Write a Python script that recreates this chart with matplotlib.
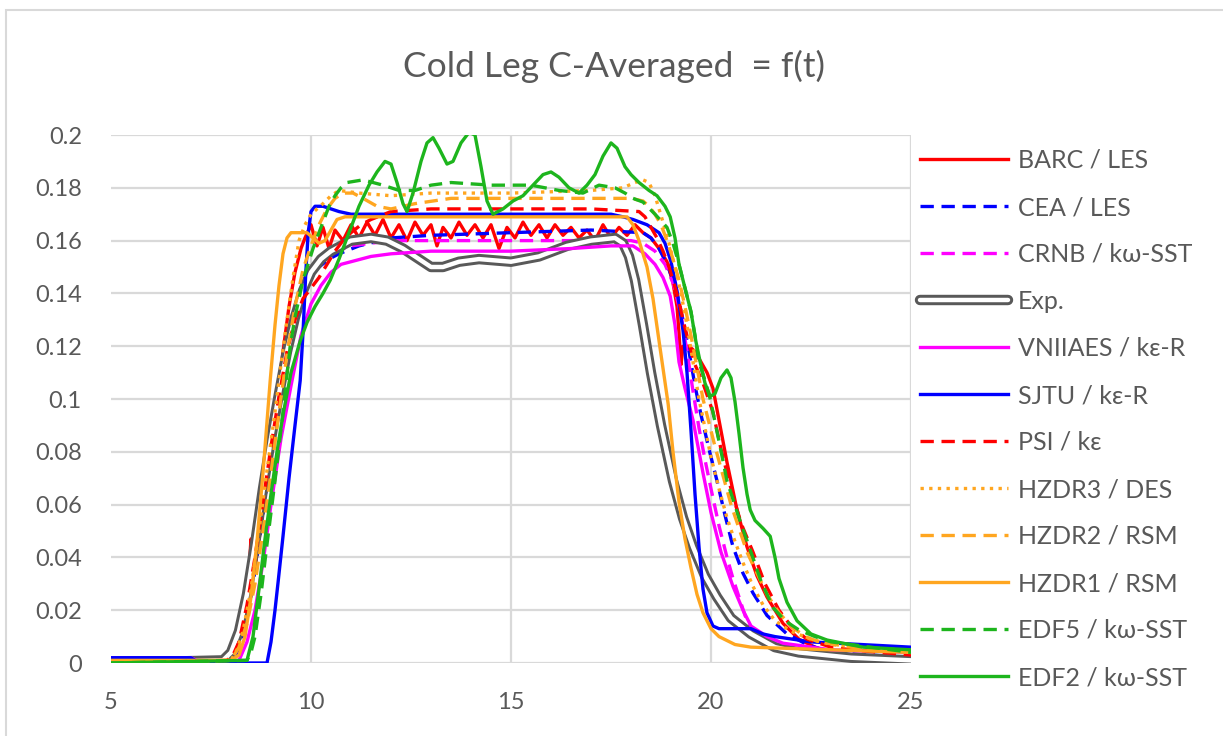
import numpy as np
import matplotlib.pyplot as plt
from matplotlib.legend_handler import HandlerTuple
from matplotlib.patches import Rectangle

# time [s] and cross-section averaged concentration for each contribution
t_barc = [5.0, 7.0, 7.3, 7.9, 8.05, 8.2, 8.35, 8.45, 8.5, 8.55, 8.6, 8.75, 9.0, 9.15, 9.3, 9.45, 9.6,
          9.75, 9.85, 10.0, 10.15, 10.3, 10.45, 10.6, 10.8, 11.0, 11.2, 11.4, 11.6, 11.8, 12.0, 12.2,
          12.4, 12.6, 12.8, 13.0, 13.15, 13.3, 13.5, 13.7, 13.9, 14.1, 14.3, 14.5, 14.7, 14.9, 15.1,
          15.3, 15.5, 15.7, 15.9, 16.1, 16.3, 16.5, 16.7, 16.9, 17.1, 17.3, 17.5, 17.7, 17.9, 18.1,
          18.3, 18.5, 18.7, 18.9, 19.05, 19.15, 19.2, 19.25, 19.3, 19.45, 19.6, 19.75, 19.9, 20.05,
          20.2, 20.4, 20.65, 20.9, 21.15, 21.4, 21.8, 22.2, 22.6, 23.0, 24.0, 25.0]
c_barc = [0.002, 0.002, 0.0005, 0.001, 0.004, 0.01, 0.022, 0.035, 0.047, 0.04, 0.036, 0.052, 0.082,
          0.1, 0.118, 0.135, 0.148, 0.157, 0.161, 0.166, 0.158, 0.165, 0.157, 0.164, 0.160, 0.166,
          0.161, 0.167, 0.162, 0.168, 0.161, 0.166, 0.160, 0.167, 0.162, 0.166, 0.158, 0.165, 0.161,
          0.167, 0.162, 0.166, 0.161, 0.166, 0.157, 0.165, 0.161, 0.167, 0.162, 0.166, 0.161, 0.166,
          0.162, 0.165, 0.161, 0.164, 0.160, 0.166, 0.161, 0.165, 0.162, 0.166, 0.163, 0.161, 0.157,
          0.152, 0.144, 0.135, 0.125, 0.113, 0.120, 0.120, 0.118, 0.114, 0.110, 0.104, 0.092, 0.076,
          0.058, 0.044, 0.033, 0.025, 0.015, 0.009, 0.006, 0.004, 0.002, 0.001]

t_cea = [5.0, 7.0, 7.2, 8.0, 8.15, 8.3, 8.5, 8.7, 8.85, 9.0, 9.2, 9.4, 9.6, 9.8, 10.0, 10.2, 10.45,
         10.7, 11.2, 12.0, 13.0, 15.0, 17.0, 18.3, 18.5, 18.7, 18.9, 19.1, 19.3, 19.45, 19.6, 19.75,
         19.95, 20.15, 20.35, 20.55, 20.8, 21.05, 21.4, 21.9, 22.4, 23.0, 25.0]
c_cea = [0.002, 0.002, 0.0005, 0.0005, 0.004, 0.01, 0.025, 0.045, 0.062, 0.08, 0.1, 0.12, 0.133, 0.142,
         0.147, 0.150, 0.153, 0.155, 0.158, 0.161, 0.162, 0.163, 0.164, 0.163, 0.161, 0.157, 0.151,
         0.143, 0.130, 0.118, 0.105, 0.094, 0.081, 0.069, 0.056, 0.044, 0.034, 0.0265, 0.018, 0.011,
         0.007, 0.004, 0.002]

t_crnb = [5.0, 8.0, 8.2, 8.4, 8.6, 8.8, 9.0, 9.2, 9.4, 9.6, 9.8, 10.0, 10.25, 10.5, 11.0, 12.0, 15.0,
          18.0, 18.3, 18.6, 18.85, 19.05, 19.25, 19.4, 19.55, 19.7, 19.85, 20.0, 20.2, 20.4, 20.55,
          20.7, 20.85, 21.0, 21.25, 21.6, 22.5, 25.0]
c_crnb = [0.0, 0.001, 0.008, 0.02, 0.038, 0.06, 0.08, 0.10, 0.117, 0.13, 0.14, 0.147, 0.152, 0.155,
          0.158, 0.160, 0.160, 0.160, 0.159, 0.156, 0.151, 0.144, 0.132, 0.118, 0.103, 0.089, 0.077,
          0.066, 0.052, 0.040, 0.032, 0.025, 0.018, 0.013, 0.009, 0.006, 0.004, 0.002]

t_exp = [5.0, 7.8, 8.0, 8.2, 8.4, 8.6, 8.8, 9.0, 9.2, 9.4, 9.6, 9.8, 10.0, 10.25, 10.5, 10.75, 11.0,
         11.5, 11.9, 12.3, 12.7, 13.0, 13.3, 13.7, 14.2, 15.0, 15.7, 16.4, 17.0, 17.6, 17.8, 17.95,
         18.1, 18.3, 18.5, 18.75, 19.05, 19.3, 19.55, 19.85, 20.15, 20.5, 21.0, 21.6, 22.2, 23.5, 25.0]
c_exp = [0.0, 0.001, 0.004, 0.012, 0.026, 0.045, 0.066, 0.085, 0.102, 0.118, 0.131, 0.141, 0.148,
         0.153, 0.156, 0.158, 0.160, 0.161, 0.160, 0.157, 0.153, 0.150, 0.150, 0.152, 0.153, 0.152,
         0.154, 0.158, 0.160, 0.161, 0.159, 0.154, 0.145, 0.128, 0.110, 0.090, 0.069, 0.055, 0.044,
         0.033, 0.025, 0.017, 0.011, 0.006, 0.004, 0.002, 0.001]

t_vniiaes = [5.0, 7.0, 7.2, 8.2, 8.4, 8.6, 8.8, 9.0, 9.25, 9.5, 9.75, 10.0, 10.25, 10.5, 10.75, 11.0,
             11.5, 12.0, 13.0, 15.0, 16.5, 17.5, 18.05, 18.35, 18.6, 18.8, 18.98, 19.1, 19.2, 19.35,
             19.55, 19.8, 20.0, 20.25, 20.55, 20.8, 21.0, 21.4, 21.8, 23.0, 25.0]
c_vniiaes = [0.002, 0.002, 0.0005, 0.001, 0.008, 0.02, 0.038, 0.06, 0.085, 0.105, 0.124, 0.136, 0.143,
             0.148, 0.151, 0.152, 0.154, 0.155, 0.156, 0.156, 0.157, 0.158, 0.158, 0.155, 0.151, 0.146,
             0.139, 0.128, 0.114, 0.104, 0.092, 0.072, 0.057, 0.042, 0.029, 0.020, 0.014, 0.010, 0.0075,
             0.005, 0.004]

t_sjtu = [5.0, 7.0, 7.2, 8.9, 9.0, 9.1, 9.18, 9.3, 9.45, 9.6, 9.73, 9.8, 9.87, 9.93, 10.0, 10.1, 10.3,
          10.5, 10.7, 11.0, 17.5, 17.8, 18.05, 18.4, 18.7, 18.85, 19.0, 19.15, 19.3, 19.4, 19.5, 19.6,
          19.7, 19.8, 19.9, 20.05, 20.2, 21.0, 21.3, 21.6, 22.5, 25.0]
c_sjtu = [0.002, 0.002, 0.0, 0.0, 0.008, 0.02, 0.031, 0.048, 0.07, 0.09, 0.107, 0.125, 0.148, 0.163,
          0.171, 0.173, 0.173, 0.172, 0.171, 0.170, 0.170, 0.169, 0.168, 0.166, 0.163, 0.159, 0.152,
          0.141, 0.126, 0.110, 0.088, 0.064, 0.044, 0.028, 0.019, 0.014, 0.013, 0.013, 0.011, 0.010,
          0.008, 0.006]

t_psi = [5.0, 7.9, 8.05, 8.2, 8.4, 8.6, 8.8, 9.0, 9.2, 9.4, 9.6, 9.8, 10.0, 10.2, 10.4, 10.6, 10.8,
         11.0, 11.25, 11.5, 12.0, 13.0, 15.0, 17.0, 18.2, 18.35, 18.5, 18.65, 18.8, 18.95, 19.05, 19.2,
         19.3, 19.45, 19.6, 19.8, 20.05, 20.25, 20.5, 20.75, 21.05, 21.35, 21.7, 22.0, 22.4, 23.0,
         23.5, 25.0]
c_psi = [0.0, 0.001, 0.003, 0.008, 0.022, 0.04, 0.061, 0.082, 0.101, 0.118, 0.130, 0.138, 0.142, 0.146,
         0.151, 0.156, 0.160, 0.163, 0.166, 0.168, 0.171, 0.172, 0.172, 0.172, 0.171, 0.169, 0.165,
         0.161, 0.156, 0.150, 0.145, 0.137, 0.130, 0.121, 0.113, 0.106, 0.095, 0.081, 0.066, 0.053,
         0.042, 0.030, 0.020, 0.014, 0.009, 0.006, 0.005, 0.003]

t_hzdr3 = [5.0, 8.0, 8.15, 8.3, 8.5, 8.7, 8.9, 9.1, 9.25, 9.4, 9.55, 9.7, 9.85, 10.0, 10.3, 10.5, 10.7,
           11.2, 12.0, 13.0, 15.0, 17.0, 17.8, 18.1, 18.3, 18.45, 18.6, 18.8, 18.95, 19.1, 19.25, 19.4,
           19.55, 19.7, 19.85, 20.0, 20.2, 20.4, 20.6, 20.8, 21.05, 21.3, 21.6, 22.0, 22.5, 23.0, 25.0]
c_hzdr3 = [0.0, 0.001, 0.005, 0.012, 0.028, 0.05, 0.073, 0.095, 0.113, 0.13, 0.146, 0.16, 0.166, 0.170,
           0.174, 0.177, 0.179, 0.178, 0.177, 0.178, 0.178, 0.179, 0.180, 0.182, 0.183, 0.182, 0.177,
           0.167, 0.159, 0.150, 0.140, 0.128, 0.114, 0.100, 0.089, 0.078, 0.066, 0.055, 0.046, 0.038,
           0.029, 0.022, 0.016, 0.012, 0.009, 0.007, 0.004]

t_hzdr2 = [5.0, 8.0, 8.2, 8.4, 8.6, 8.8, 9.0, 9.2, 9.4, 9.6, 9.8, 10.0, 10.2, 10.4, 10.6, 10.8, 11.05,
           11.3, 11.65, 12.0, 12.3, 12.6, 13.5, 15.0, 17.0, 18.0, 18.3, 18.45, 18.6, 18.75, 18.9, 19.05,
           19.2, 19.35, 19.5, 19.65, 19.8, 19.95, 20.1, 20.3, 20.5, 20.7, 20.9, 21.15, 21.4, 21.7, 22.0,
           22.35, 22.7, 23.5, 25.0]
c_hzdr2 = [0.0, 0.001, 0.006, 0.015, 0.03, 0.05, 0.072, 0.095, 0.117, 0.135, 0.149, 0.158, 0.166,
           0.172, 0.176, 0.178, 0.178, 0.176, 0.173, 0.172, 0.173, 0.174, 0.176, 0.176, 0.176, 0.176,
           0.175, 0.173, 0.170, 0.166, 0.160, 0.153, 0.145, 0.135, 0.124, 0.112, 0.100, 0.091, 0.082,
           0.071, 0.060, 0.051, 0.042, 0.034, 0.026, 0.019, 0.014, 0.010, 0.008, 0.006, 0.004]

t_hzdr1 = [5.0, 8.0, 8.2, 8.35, 8.5, 8.65, 8.8, 8.98, 9.1, 9.2, 9.3, 9.4, 9.5, 9.9, 10.05, 10.2, 10.35,
           10.5, 10.65, 10.85, 17.9, 18.05, 18.2, 18.4, 18.55, 18.72, 18.93, 19.05, 19.2, 19.35, 19.5,
           19.65, 19.8, 20.0, 20.2, 20.6, 21.0, 25.0]
c_hzdr1 = [0.001, 0.001, 0.003, 0.01, 0.025, 0.046, 0.072, 0.107, 0.128, 0.143, 0.155, 0.161, 0.163,
           0.163, 0.161, 0.159, 0.160, 0.164, 0.168, 0.169, 0.169, 0.166, 0.160, 0.150, 0.138, 0.120,
           0.098, 0.080, 0.061, 0.047, 0.036, 0.026, 0.019, 0.013, 0.010, 0.007, 0.006, 0.004]

t_edf5 = [5.0, 8.4, 8.5, 8.6, 8.75, 8.9, 9.0, 9.1, 9.2, 9.3, 9.4, 9.48, 9.6, 9.8, 10.05, 10.3, 10.45,
          10.6, 10.75, 10.9, 11.3, 11.8, 12.2, 12.6, 13.0, 13.5, 14.5, 15.5, 16.2, 16.8, 17.2, 17.6,
          17.85, 18.05, 18.3, 18.6, 18.9, 19.05, 19.2, 19.35, 19.5, 19.6, 19.7, 19.85, 19.98, 20.2,
          20.4, 20.7, 21.0, 21.25, 21.55, 21.85, 22.2, 22.6, 23.0, 24.0, 25.0]
c_edf5 = [0.0, 0.001, 0.004, 0.01, 0.026, 0.045, 0.057, 0.069, 0.082, 0.095, 0.109, 0.12, 0.131, 0.145,
          0.157, 0.167, 0.173, 0.177, 0.180, 0.182, 0.183, 0.181, 0.179, 0.179, 0.181, 0.182, 0.181,
          0.181, 0.179, 0.178, 0.181, 0.180, 0.178, 0.176, 0.1746, 0.170, 0.165, 0.159, 0.151, 0.142,
          0.133, 0.124, 0.114, 0.107, 0.100, 0.084, 0.069, 0.055, 0.042, 0.031, 0.021, 0.016, 0.0125,
          0.010, 0.008, 0.006, 0.004]

t_edf2 = [5.0, 8.4, 8.55, 8.7, 8.85, 9.0, 9.15, 9.3, 9.5, 9.73, 9.9, 10.1, 10.3, 10.48, 10.7, 10.9,
          11.05, 11.2, 11.45, 11.65, 11.85, 12.0, 12.15, 12.3, 12.4, 12.55, 12.75, 12.9, 13.05, 13.2,
          13.4, 13.55, 13.75, 13.95, 14.1, 14.25, 14.4, 14.55, 14.8, 15.05, 15.3, 15.55, 15.8, 16.0,
          16.2, 16.45, 16.7, 16.9, 17.1, 17.3, 17.5, 17.65, 17.85, 18.0, 18.2, 18.45, 18.65, 18.85,
          18.98, 19.1, 19.2, 19.35, 19.5, 19.62, 19.73, 19.85, 19.98, 20.1, 20.25, 20.4, 20.5, 20.6,
          20.7, 20.8, 20.9, 20.98, 21.1, 21.3, 21.48, 21.6, 21.7, 21.9, 22.15, 22.5, 22.9, 23.8, 25.0]
c_edf2 = [0.0, 0.001, 0.01, 0.028, 0.047, 0.064, 0.08, 0.094, 0.11, 0.122, 0.129, 0.135, 0.140, 0.145,
          0.153, 0.161, 0.167, 0.173, 0.181, 0.186, 0.190, 0.189, 0.182, 0.174, 0.171, 0.178, 0.190,
          0.197, 0.199, 0.195, 0.189, 0.190, 0.197, 0.201, 0.200, 0.188, 0.175, 0.170, 0.172, 0.175,
          0.177, 0.181, 0.185, 0.186, 0.184, 0.180, 0.178, 0.181, 0.185, 0.192, 0.197, 0.195, 0.188,
          0.185, 0.182, 0.179, 0.177, 0.173, 0.169, 0.161, 0.151, 0.142, 0.133, 0.122, 0.114, 0.106,
          0.101, 0.102, 0.108, 0.111, 0.108, 0.099, 0.087, 0.074, 0.064, 0.058, 0.054, 0.051, 0.048,
          0.040, 0.032, 0.023, 0.016, 0.011, 0.0087, 0.006, 0.005]

labels = ['BARC / LES', 'CEA / LES', 'CRNB / kω-SST', 'Exp.', 'VNIIAES / kε-R', 'SJTU / kε-R',
          'PSI / kε', 'HZDR3 / DES', 'HZDR2 / RSM', 'HZDR1 / RSM', 'EDF5 / kω-SST', 'EDF2 / kω-SST']
x_ticks = [5, 10, 15, 20, 25]
y_ticks = [0, 0.02, 0.04, 0.06, 0.08, 0.1, 0.12, 0.14, 0.16, 0.18, 0.2]
y_ticklabels = ['0', '0.02', '0.04', '0.06', '0.08', '0.1', '0.12', '0.14', '0.16', '0.18', '0.2']

red = '#FF0000'
blue = '#0000FF'
magenta = '#FF00FF'
orange = '#FFA620'
green = '#1DB51D'
grey = '#595959'
dash = (4, 2.3)

plt.rcParams['font.family'] = ['Lato', 'DejaVu Sans']

fig = plt.figure(figsize=(12.23, 7.36), dpi=100)
fig.patches.append(Rectangle((6 / 1223, -0.1), 1.2, 1.1 - 10 / 736, transform=fig.transFigure,
                             fill=False, edgecolor='#D9D9D9', linewidth=1.5))
ax = fig.add_axes([111 / 1223, 1 - 663 / 736, 800 / 1223, 528 / 736])

lw = 2.4
handles = []
h, = ax.plot(t_barc, c_barc, color=red, lw=lw)
handles.append(h)
h, = ax.plot(t_cea, c_cea, color=blue, lw=lw, dashes=dash)
handles.append(h)
h, = ax.plot(t_crnb, c_crnb, color=magenta, lw=lw, dashes=dash)
handles.append(h)
# experiment drawn as a hollow double line
h1, = ax.plot(t_exp, c_exp, color=grey, lw=7.5, solid_capstyle='round')
h2, = ax.plot(t_exp, c_exp, color='white', lw=3.2, solid_capstyle='round')
handles.append((h1, h2))
h, = ax.plot(t_vniiaes, c_vniiaes, color=magenta, lw=lw)
handles.append(h)
h, = ax.plot(t_sjtu, c_sjtu, color=blue, lw=lw)
handles.append(h)
h, = ax.plot(t_psi, c_psi, color=red, lw=lw, dashes=dash)
handles.append(h)
h, = ax.plot(t_hzdr3, c_hzdr3, color=orange, lw=lw, dashes=(1, 1.6))
handles.append(h)
h, = ax.plot(t_hzdr2, c_hzdr2, color=orange, lw=lw, dashes=dash)
handles.append(h)
h, = ax.plot(t_hzdr1, c_hzdr1, color=orange, lw=lw)
handles.append(h)
h, = ax.plot(t_edf5, c_edf5, color=green, lw=lw, dashes=dash)
handles.append(h)
h, = ax.plot(t_edf2, c_edf2, color=green, lw=lw)
handles.append(h)

ax.set_xlim(5, 25)
ax.set_ylim(0, 0.2)
ax.set_xticks(x_ticks)
ax.set_xticklabels([str(v) for v in x_ticks])
ax.set_yticks(y_ticks)
ax.set_yticklabels(y_ticklabels)
ax.tick_params(length=0, labelsize=17, labelcolor=grey)
ax.tick_params(axis='y', pad=21)
ax.tick_params(axis='x', pad=21)
ax.grid(True, color='#D9D9D9', lw=1.6)
ax.xaxis.get_gridlines()[0].set_visible(False)
ax.set_axisbelow(True)
for s in ax.spines.values():
    s.set_visible(False)

fig.text(614 / 1223, 1 - 66 / 736, 'Cold Leg C-Averaged  = f(t)', ha='center', va='center',
         fontsize=25.5, color=grey)

fig.legend(handles, labels, loc='upper left', bbox_to_anchor=(920 / 1223, 1 - 149 / 736),
           frameon=False, fontsize=18, labelcolor=grey, handlelength=3.5, handletextpad=0.4,
           labelspacing=0.96, borderpad=0, borderaxespad=0,
           handler_map={tuple: HandlerTuple(ndivide=1, pad=0)})

fig.savefig('out.png', dpi=100)
